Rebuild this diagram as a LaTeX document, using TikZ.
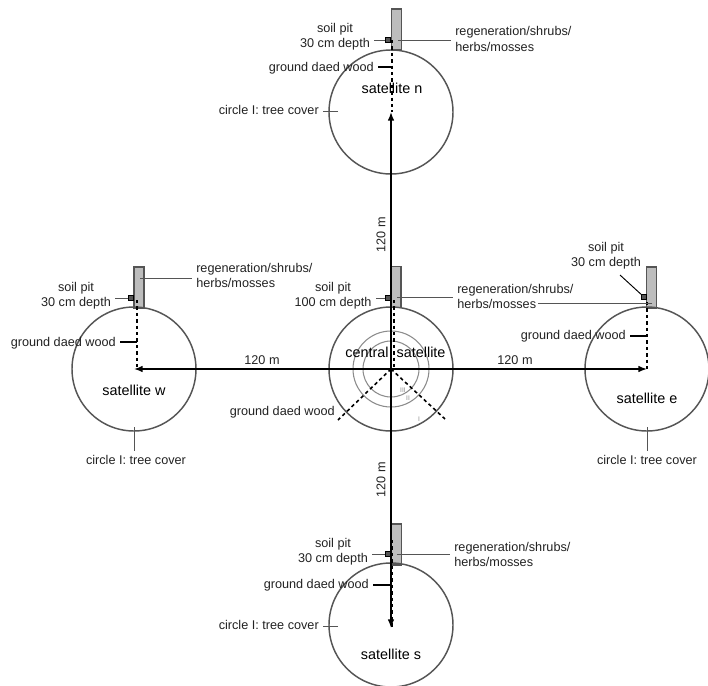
\documentclass[tikz,border=0pt]{standalone}
\usepackage{fontspec}
\setmainfont{Liberation Sans}
\usepackage{xcolor}
\usepackage{tikz}
\usetikzlibrary{arrows.meta,positioning}
\definecolor{ringline}{HTML}{555555}
\definecolor{innerring}{HTML}{8C8C8C}
\definecolor{plotfill}{HTML}{BDBDBD}
\definecolor{labeltext}{HTML}{222222}

\begin{document}
\begin{tikzpicture}[x=0.75pt,y=-0.75pt,
  ring/.style={draw=ringline, circle, line width=1.1pt, minimum size=93pt, inner sep=0pt},
  innerRing/.style={draw=innerring, circle, line width=0.8pt, inner sep=0pt},
  plotBox/.style={draw=ringline, fill=plotfill, line width=0.8pt, minimum width=7.5pt, minimum height=30.75pt, inner sep=0pt},
  pitBox/.style={draw=black, fill=ringline, line width=0.6pt, minimum size=3.75pt, inner sep=0pt},
  note/.style={font=\fontsize{9.5}{11.5}\selectfont, text=labeltext, align=center, inner sep=3pt},
  noteLeft/.style={note, align=left},
  satName/.style={font=\fontsize{10.8}{13}\selectfont, text=black, inner sep=0pt},
  romanMark/.style={font=\fontsize{5}{6}\selectfont, text=innerring, inner sep=0pt},
  flow/.style={-{Latex[length=6.5pt,width=5pt]}, line width=1.1pt},
  deadLine/.style={line width=1.2pt, dash pattern=on 2.6pt off 2.2pt},
  leader/.style={draw=ringline, line width=0.7pt},
  deadLeader/.style={line width=1pt}
]
  \useasboundingbox (0,0) rectangle (708,686);

  % plots
  \node[plotBox] (plotn) at (396.5,29.5) {};
  \node[plotBox] (plotc) at (396,287) {};
  \node[plotBox] (plotw) at (139,287.5) {};
  \node[plotBox] (plote) at (651.5,287.5) {};
  \node[plotBox] (plots) at (396.5,544.5) {};

  % circles
  \node[ring] (satn) at (391,112) {};
  \node[ring] (satc) at (391,369) {};
  \node[ring] (satw) at (134,369) {};
  \node[ring] (sate) at (647,369) {};
  \node[ring] (sats) at (391,625) {};
  \node[innerRing, minimum size=57pt] (ringb) at (satc) {};
  \node[innerRing, minimum size=42pt] (ringc) at (satc) {};

  % pits
  \node[pitBox] (pitn) at (388,40) {};
  \node[pitBox] (pitc) at (388,298) {};
  \node[pitBox] (pitw) at (131,298) {};
  \node[pitBox] (pite) at (644,297) {};
  \node[pitBox] (pits) at (388,554) {};

  % free ends
  \coordinate (deadn) at (392,40);
  \coordinate (deadc) at (394,300);
  \coordinate (deadw) at (137,300);
  \coordinate (deade) at (647,302);
  \coordinate (deads) at (392,540);
  \coordinate (deadsw) at (338,420);
  \coordinate (deadse) at (445,419);
  \coordinate (tipdeadn) at (393,67);
  \coordinate (tipdeadw) at (137,342);
  \coordinate (tipdeade) at (647,336);
  \coordinate (tipdeads) at (391,585);
  \coordinate (tipregw) at (140,278);
  \coordinate (tipregc) at (397,297);
  \coordinate (tipregn) at (398,40);
  \coordinate (tipregs) at (397,554);
  \coordinate (tiprege) at (652,303);
  \coordinate (startrege) at (538,303);
  \coordinate (startsoile) at (620,275);
  \coordinate (tiptreen) at (338,111);
  \coordinate (tiptrees) at (338,626);
  \coordinate (tiptreew) at (134,427);
  \coordinate (tiptreee) at (647,427);
  \coordinate (tipflows) at (391,628);

  % dead wood lines
  \draw[deadLine] (deadn) -- (deadn |- satn.center);
  \draw[deadLine] (deadc) -- (deadc |- satc.center);
  \draw[deadLine] (deadw) -- (deadw |- satw.center);
  \draw[deadLine] (deade) -- (deade |- sate.center);
  \draw[deadLine] (deads) -- (deads |- tipflows);
  \draw[deadLine] (satc.center) -- (deadsw);
  \draw[deadLine] (satc.center) -- (deadse);

  % main lines
  \draw[flow] (satc.center) -- (satn.center);
  \draw[flow] (satc.center) -- (satw.center);
  \draw[flow] (satc.center) -- (sate.center);
  \draw[flow] (satc.center) -- (tipflows);

  % labels
  \node[satName] (namen) at (392,88) {satellite n};
  \node[satName] (namec) at (395.5,352) {central\ \ satellite};
  \node[satName] (namew) at (134,390) {satellite w};
  \node[satName] (namee) at (647,398) {satellite e};
  \node[satName] (names) at (391,654) {satellite s};

  \node[note] (soiln) at (335,36.5) {soil pit\\30 cm depth};
  \node[note] (soilc) at (333,295.5) {soil pit\\100 cm depth};
  \node[note] (soilw) at (76,296) {soil pit\\30 cm depth};
  \node[note] (soile) at (606,255.5) {soil pit\\30 cm depth};
  \node[note] (soils) at (333,552) {soil pit\\30 cm depth};

  \node[noteLeft, anchor=west] (regn) at (451,39) {regeneration/shrubs/\\herbs/mosses};
  \node[noteLeft, anchor=west] (regc) at (453,296.5) {regeneration/shrubs/\\herbs/mosses};
  \node[noteLeft, anchor=west] (regw) at (192,275.5) {regeneration/shrubs/\\herbs/mosses};
  \node[noteLeft, anchor=west] (regs) at (450,554.5) {regeneration/shrubs/\\herbs/mosses};

  \node[note, anchor=east] (gdwn) at (378,68) {ground daed wood};
  \node[note, anchor=east] (gdwc) at (339,412) {ground daed wood};
  \node[note, anchor=east] (gdww) at (120,343) {ground daed wood};
  \node[note, anchor=east] (gdwe) at (630,336) {ground daed wood};
  \node[note, anchor=east] (gdws) at (373,585) {ground daed wood};

  \node[note, anchor=east] (treen) at (323,110) {circle I: tree cover};
  \node[note, anchor=east] (trees) at (323,625) {circle I: tree cover};
  \node[note] (treew) at (136,460) {circle I: tree cover};
  \node[note] (treee) at (647,460) {circle I: tree cover};

  \node[note, rotate=90] (distn) at (381,235) {120 m};
  \node[note, rotate=90] (dists) at (381,480) {120 m};
  \node[note] (distw) at (262,360) {120 m};
  \node[note] (diste) at (515,360) {120 m};

  \node[romanMark] (marka) at (419,419) {I};
  \node[romanMark] (markb) at (408,398) {II};
  \node[romanMark] (markc) at (403,390) {III};

  % leaders
  \draw[leader] (pitn) -- (pitn -| soiln.east);
  \draw[leader] (pitc) -- (pitc -| soilc.east);
  \draw[leader] (pitw) -- (pitw -| soilw.east);
  \draw[leader, draw=black] (pite) -- (startsoile);
  \draw[leader] (pits) -- (pits -| soils.east);
  \draw[leader] (tipregn) -- (tipregn -| regn.west);
  \draw[leader] (tipregc) -- (tipregc -| regc.west);
  \draw[leader] (tipregw) -- (tipregw -| regw.west);
  \draw[leader] (tipregs) -- (tipregs -| regs.west);
  \draw[leader] (tiprege) -- (startrege);
  \draw[deadLeader] (tipdeadn) -- (tipdeadn -| gdwn.east);
  \draw[deadLeader] (tipdeadw) -- (tipdeadw -| gdww.east);
  \draw[deadLeader] (tipdeade) -- (tipdeade -| gdwe.east);
  \draw[deadLeader] (tipdeads) -- (tipdeads -| gdws.east);
  \draw[leader] (tiptreen) -- (tiptreen -| treen.east);
  \draw[leader] (tiptrees) -- (tiptrees -| trees.east);
  \draw[leader] (tiptreew) -- (tiptreew |- treew.north);
  \draw[leader] (tiptreee) -- (tiptreee |- treee.north);
\end{tikzpicture}
\end{document}
